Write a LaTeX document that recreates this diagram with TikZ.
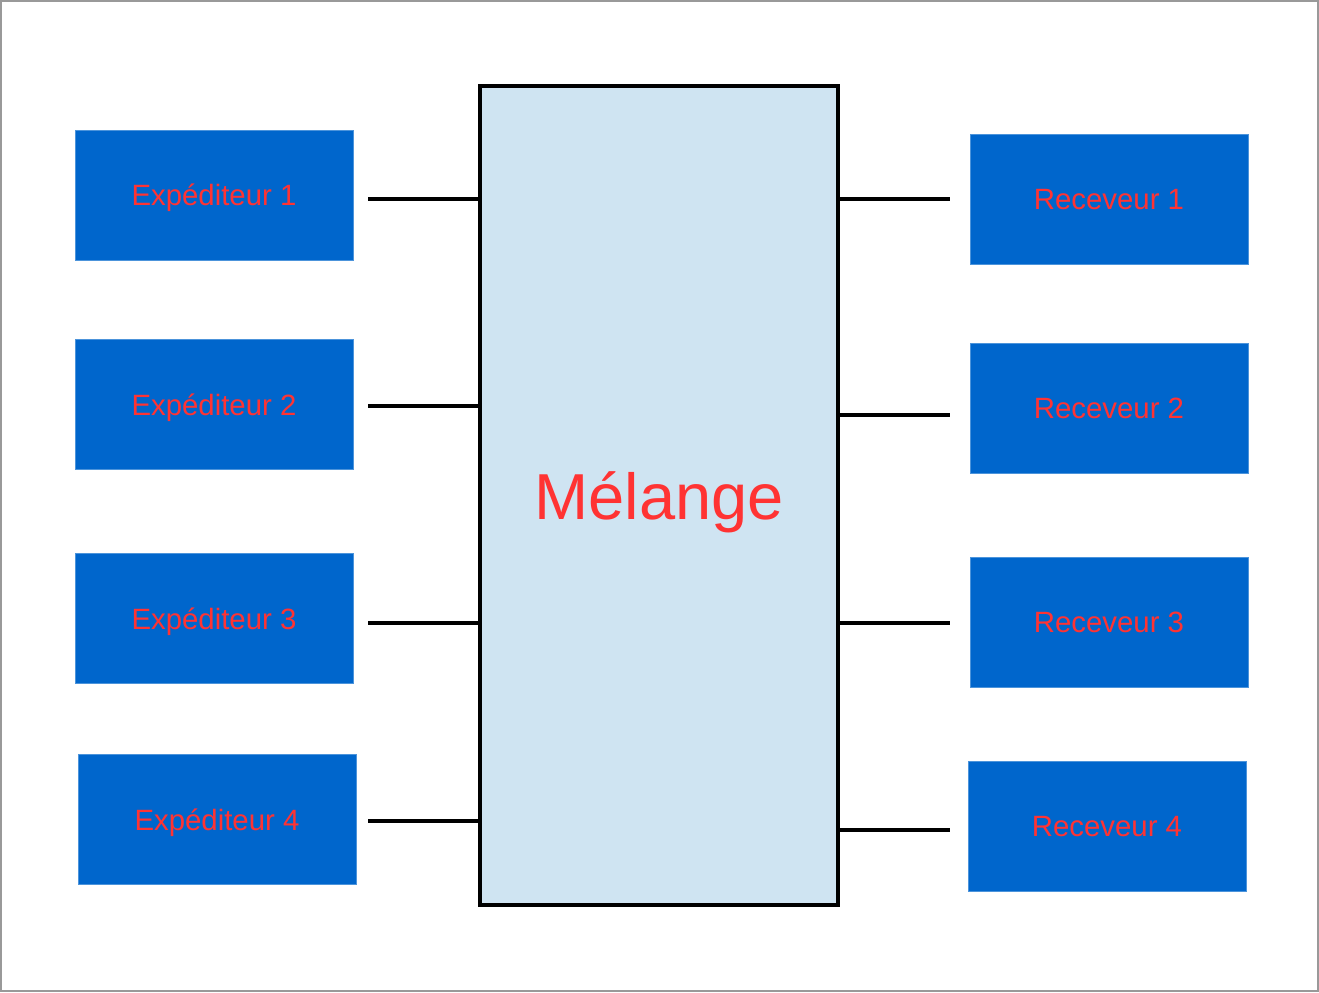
\documentclass[tikz,border=0pt]{standalone}
\usepackage{fontspec}
\setmainfont{Liberation Sans}
\usepackage{xcolor}
\usetikzlibrary{positioning}

\definecolor{boxblue}{HTML}{0066CC}
\definecolor{labelred}{HTML}{FF3333}
\definecolor{mixfill}{HTML}{CFE4F2}

\begin{document}
\begin{tikzpicture}[
x=0.02cm,y=-0.02cm,
party/.style={rectangle,fill=boxblue,draw=boxblue!70!white,line width=0.4pt,minimum width=5.56cm,minimum height=2.6cm,inner sep=0pt,text depth=0pt,text=labelred,font=\fontsize{16.7}{20}\selectfont},
mixer/.style={rectangle,draw=black,line width=1.9pt,fill=mixfill,minimum width=7.16cm,minimum height=16.38cm,inner sep=0pt,text depth=0pt,text=labelred,font=\fontsize{37}{44}\selectfont},
link/.style={draw=black,line width=2pt},
frame/.style={draw=black!40,line width=1.2pt}
]
\useasboundingbox (0,0) rectangle (1319,992);
\draw[frame] (1,1) rectangle (1318,991);

% central block
\node[mixer] (mix) at (659,495.5) {Mélange};

% senders
\node[party] (exp1) at (214,195) {Expéditeur 1};
\node[party] (exp2) at (214,404.5) {Expéditeur 2};
\node[party] (exp3) at (214,618.5) {Expéditeur 3};
\node[party] (exp4) at (217,819.5) {Expéditeur 4};

% receivers
\node[party] (rec1) at (1109,199.5) {Receveur 1};
\node[party] (rec2) at (1109,408.5) {Receveur 2};
\node[party] (rec3) at (1109,622.5) {Receveur 3};
\node[party] (rec4) at (1107,826) {Receveur 4};

% free ends of the links
\coordinate (in1) at (368,199);
\coordinate (in2) at (368,406);
\coordinate (in3) at (368,623);
\coordinate (in4) at (368,821);
\coordinate (out1) at (950,199);
\coordinate (out2) at (950,415);
\coordinate (out3) at (950,623);
\coordinate (out4) at (950,830);

\foreach \i in {1,...,4}{
  \draw[link] (in\i) -- (in\i -| mix.west);
  \draw[link] (mix.east |- out\i) -- (out\i);
}
\end{tikzpicture}
\end{document}
